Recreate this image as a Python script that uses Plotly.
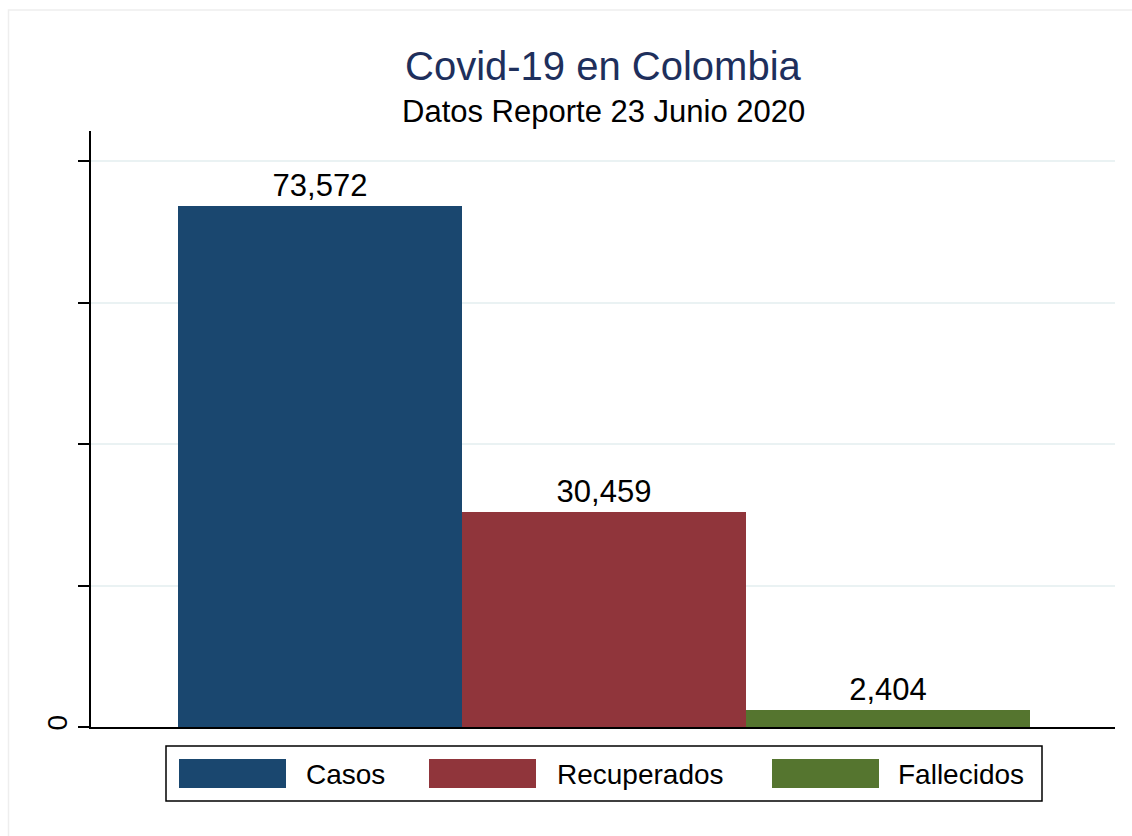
import plotly.graph_objects as go

categories = ["Casos", "Recuperados", "Fallecidos"]
values = [73572, 30459, 2404]
colors = ["#1a476f", "#90353b", "#55752f"]
y_tick_vals = [0, 20000, 40000, 60000, 80000]
y_tick_text = ["0", "", "", "", ""]
title_text = "Covid-19 en Colombia"
subtitle_text = "Datos Reporte 23 Junio 2020"

W, H = 1132, 836
L, R, T, B = 91, 17, 131, 109
PW, PH = W - L - R, H - T - B
FONT = "Liberation Sans, Arial, sans-serif"

def px_x(p):
    return (p - L) / PW

def px_y(p):
    return (H - B - p) / PH

fig = go.Figure()
for i, (cat, val, col) in enumerate(zip(categories, values, colors)):
    fig.add_trace(go.Bar(
        x=[i], y=[val], name=cat, width=1,
        marker=dict(color=col, line=dict(width=0)),
        text=[f"{val:,}"], textposition="outside",
        textfont=dict(family=FONT, size=31, color="black"),
        cliponaxis=False, showlegend=False,
    ))

shapes = []
annotations = []
# outer frame (extends past the right/bottom edges, as in the reference)
shapes.append(dict(type="rect", xref="paper", yref="paper",
                   x0=px_x(8.5), x1=px_x(1145), y0=px_y(850), y1=px_y(10),
                   line=dict(color="#eeeeee", width=1.5), layer="below"))
# legend box
shapes.append(dict(type="rect", xref="paper", yref="paper",
                   x0=px_x(166), x1=px_x(1042), y0=px_y(801), y1=px_y(746),
                   line=dict(color="black", width=1.5)))
sw_x = [179, 429, 772]
tx_x = [304, 555, 896]
for cat, col, sx, tx in zip(categories, colors, sw_x, tx_x):
    shapes.append(dict(type="rect", xref="paper", yref="paper",
                       x0=px_x(sx), x1=px_x(sx + 107), y0=px_y(788), y1=px_y(759),
                       fillcolor=col, line=dict(width=0)))
    annotations.append(dict(text=cat, xref="paper", yref="paper",
                            x=px_x(tx), y=px_y(774), xanchor="left", yanchor="middle",
                            showarrow=False, font=dict(family=FONT, size=28, color="black")))

annotations.append(dict(text=title_text, xref="paper", yref="paper",
                        x=0.5, y=px_y(66), xanchor="center", yanchor="middle",
                        showarrow=False, font=dict(family=FONT, size=40, color="#1e2f5c")))
annotations.append(dict(text=subtitle_text, xref="paper", yref="paper",
                        x=0.5, y=px_y(112), xanchor="center", yanchor="middle",
                        showarrow=False, font=dict(family=FONT, size=31, color="black")))

fig.update_layout(
    width=W, height=H,
    margin=dict(l=L, r=R, t=T, b=B, pad=0),
    paper_bgcolor="white", plot_bgcolor="white",
    barmode="overlay", bargap=0,
    showlegend=False,
    shapes=shapes, annotations=annotations,
    font=dict(family=FONT),
)
fig.update_xaxes(
    range=[-0.5 - 87 / 284, 2.5 + 85 / 284],
    showline=True, linecolor="black", linewidth=1.5,
    showgrid=False, zeroline=False, showticklabels=False, ticks="",
)
fig.update_yaxes(
    range=[0, 84240],
    tickvals=y_tick_vals, ticktext=y_tick_text, tickangle=-90,
    ticks="outside", ticklen=11, tickwidth=1.5, tickcolor="black",
    tickfont=dict(family=FONT, size=28, color="black"),
    showline=True, linecolor="black", linewidth=1.5,
    showgrid=True, gridcolor="#eaf2f3", gridwidth=2,
    zeroline=False,
)

fig.write_html(
    "out.html",
    config={"displayModeBar": False},
    post_script="document.body.style.margin='0';document.body.style.overflow='hidden';",
)
